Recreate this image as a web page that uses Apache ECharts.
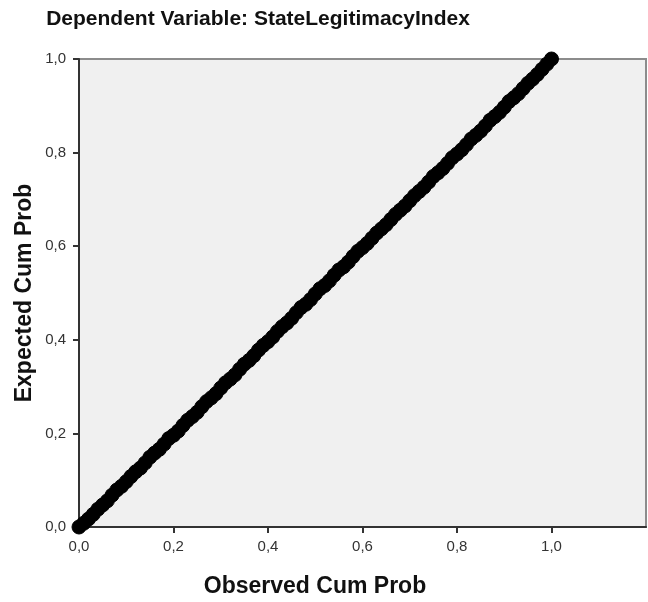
<!DOCTYPE html>
<html>
<head>
<meta charset="utf-8">
<script src="https://cdn.jsdelivr.net/npm/echarts@6/dist/echarts.min.js"></script>
<style>html,body{margin:0;padding:0;background:#fff}#c{width:648px;height:602px}</style>
</head>
<body>
<div id="c"></div>
<script>
const titleText = 'Dependent Variable: StateLegitimacyIndex';
const xName = 'Observed Cum Prob';
const yName = 'Expected Cum Prob';
const tickValues = [0, 0.2, 0.4, 0.6, 0.8, 1.0];
const observed = [
0.00,0.01,0.02,0.03,0.04,0.05,0.06,0.07,0.08,0.09,
0.10,0.11,0.12,0.13,0.14,0.15,0.16,0.17,0.18,0.19,
0.20,0.21,0.22,0.23,0.24,0.25,0.26,0.27,0.28,0.29,
0.30,0.31,0.32,0.33,0.34,0.35,0.36,0.37,0.38,0.39,
0.40,0.41,0.42,0.43,0.44,0.45,0.46,0.47,0.48,0.49,
0.50,0.51,0.52,0.53,0.54,0.55,0.56,0.57,0.58,0.59,
0.60,0.61,0.62,0.63,0.64,0.65,0.66,0.67,0.68,0.69,
0.70,0.71,0.72,0.73,0.74,0.75,0.76,0.77,0.78,0.79,
0.80,0.81,0.82,0.83,0.84,0.85,0.86,0.87,0.88,0.89,
0.90,0.91,0.92,0.93,0.94,0.95,0.96,0.97,0.98,0.99,1.00];
const expected = [
0.000,0.008,0.017,0.027,0.038,0.047,0.056,0.068,0.079,0.087,
0.097,0.108,0.118,0.126,0.137,0.149,0.158,0.166,0.177,0.189,
0.196,0.205,0.217,0.228,0.236,0.245,0.257,0.268,0.276,0.285,
0.297,0.308,0.316,0.325,0.337,0.348,0.356,0.366,0.378,0.388,
0.396,0.406,0.418,0.428,0.436,0.446,0.458,0.469,0.476,0.486,
0.498,0.509,0.516,0.526,0.538,0.549,0.556,0.566,0.578,0.589,
0.597,0.606,0.617,0.628,0.637,0.646,0.657,0.668,0.677,0.686,
0.697,0.708,0.717,0.726,0.737,0.749,0.757,0.766,0.777,0.789,
0.797,0.806,0.817,0.829,0.837,0.846,0.857,0.869,0.877,0.886,
0.897,0.909,0.917,0.926,0.937,0.948,0.957,0.967,0.978,0.989,1.000];

const points = observed.map((v, i) => [v, expected[i]]);
const fmt = v => v.toFixed(1).replace('.', ',');
const font = '"Liberation Sans", Arial, sans-serif';

const chart = echarts.init(document.getElementById('c'));
chart.setOption({
  animation: false,
  backgroundColor: '#ffffff',
  grid: {
    left: 79, right: 2, top: 59, bottom: 75,
    show: true, backgroundColor: '#f0f0f0', borderColor: '#8c8c8c', borderWidth: 2
  },
  xAxis: {
    type: 'value', min: 0, max: 1.2, interval: 0.2,
    axisLine: { show: true, onZero: false, lineStyle: { color: '#333', width: 2 } },
    axisTick: { show: true, length: 6, customValues: tickValues, lineStyle: { color: '#333', width: 2 } },
    axisLabel: { customValues: tickValues, formatter: fmt, color: '#333', fontSize: 15, fontFamily: font, margin: 12 },
    splitLine: { show: false }
  },
  yAxis: {
    type: 'value', min: 0, max: 1, interval: 0.2,
    axisLine: { show: true, onZero: false, lineStyle: { color: '#333', width: 2 } },
    axisTick: { show: true, length: 6, lineStyle: { color: '#333', width: 2 } },
    axisLabel: { formatter: fmt, color: '#333', fontSize: 15, fontFamily: font, margin: 13 },
    splitLine: { show: false }
  },
  graphic: [
    { type: 'text', x: 258, y: 19, style: { text: titleText, font: 'bold 21px ' + font, fill: '#111', align: 'center', verticalAlign: 'middle' } },
    { type: 'text', x: 315, y: 587, style: { text: xName, font: 'bold 23px ' + font, fill: '#111', align: 'center', verticalAlign: 'middle' } },
    { type: 'text', x: 25, y: 293, rotation: Math.PI / 2, style: { text: yName, font: 'bold 23px ' + font, fill: '#111', align: 'center', verticalAlign: 'middle' } }
  ],
  series: [{
    type: 'scatter',
    data: points,
    symbol: 'circle',
    symbolSize: 14,
    itemStyle: { color: '#000', borderColor: '#000', borderWidth: 1, opacity: 1 },
    clip: false
  }]
});
</script>
</body>
</html>
